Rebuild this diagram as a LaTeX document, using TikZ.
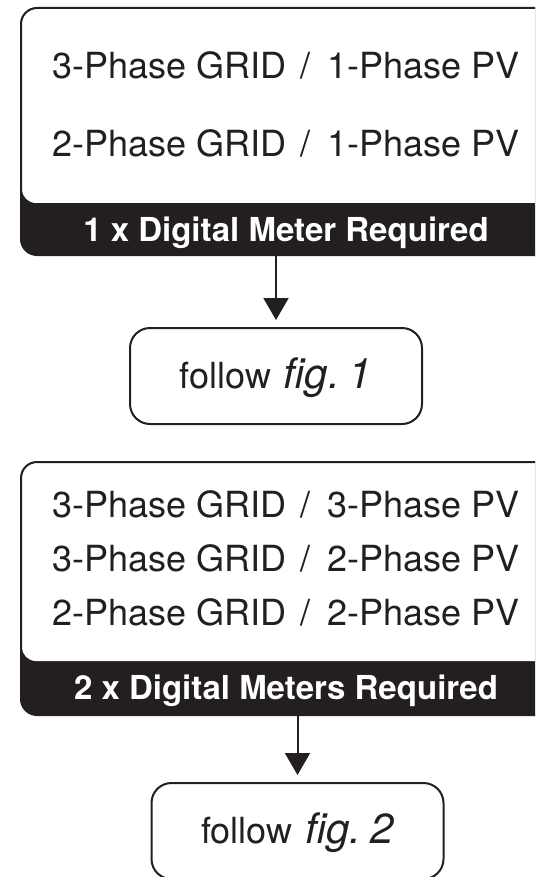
\documentclass[tikz,border=0pt]{standalone}
\usepackage{fontspec}
\setmainfont{TeX Gyre Heros}
\usetikzlibrary{arrows.meta}
\definecolor{ink}{HTML}{231F20}
\newcommand\slsep{\hspace{14pt}/\hspace{17pt}}
\newcommand\followfig[1]{{\fontsize{36}{36}\selectfont follow}\hspace{13pt}{\fontsize{42}{42}\selectfont\itshape fig.\hspace{9pt}#1}}
\begin{document}
\begin{tikzpicture}[x=1pt,y=-1pt,
  bigbox/.style={fill=ink, draw=none, rounded corners=16pt, inner sep=0pt, outer sep=0pt, minimum width=530pt},
  whitepart/.style={fill=white, draw=none, rounded corners=14pt, inner sep=0pt, outer sep=0pt, minimum width=528pt},
  frame/.style={draw=ink, line width=2pt, rounded corners=16pt},
  cond/.style={text=ink, font=\fontsize{36}{36}\selectfont, anchor=base, inner sep=0pt},
  meter/.style={text=white, font=\fontsize{33}{33}\selectfont\bfseries, anchor=base, inner sep=0pt},
  figbox/.style={draw=ink, line width=2pt, rounded corners=20pt, minimum width=292pt, minimum height=96pt, inner sep=0pt, text=ink, text height=25pt, text depth=0pt},
  arrow/.style={draw=ink, line width=2pt, -{Triangle[width=25pt,length=22pt]}, shorten >=7pt}
]
\useasboundingbox (0,0) rectangle (535,877);
\clip (0,0) rectangle (535,877);

% ---- upper block
\node[bigbox, minimum height=247pt] (b1) at (286,131.5) {};
\node[whitepart, minimum height=194pt, anchor=north] (w1) at ([yshift=-1pt]b1.north) {};
\draw[frame] (b1.north west) rectangle (b1.south east);
\node[cond] (c11) at (286,78.3) {3-Phase GRID\slsep 1-Phase PV};
\node[cond] (c12) at (286,156.7) {2-Phase GRID\slsep 1-Phase PV};
\node[meter] (m1) at (286,241) {1 x Digital Meter Required};

\node[figbox] (f1) at (276,376) {\followfig{1}};
\draw[arrow] (f1.north |- b1.south) -- (f1.north);

% ---- lower block
\node[bigbox, minimum height=253pt] (b2) at (286,588.5) {};
\node[whitepart, minimum height=198pt, anchor=north] (w2) at ([yshift=-1pt]b2.north) {};
\draw[frame] (b2.north west) rectangle (b2.south east);
\node[cond] (c21) at (286,517.7) {3-Phase GRID\slsep 3-Phase PV};
\node[cond] (c22) at (286,571.7) {3-Phase GRID\slsep 2-Phase PV};
\node[cond] (c23) at (286,625.7) {2-Phase GRID\slsep 2-Phase PV};
\node[meter] (m2) at (286,699) {2 x Digital Meters Required};

\node[figbox] (f2) at (297.5,831) {\followfig{2}};
\draw[arrow] (f2.north |- b2.south) -- (f2.north);
\end{tikzpicture}
\end{document}
